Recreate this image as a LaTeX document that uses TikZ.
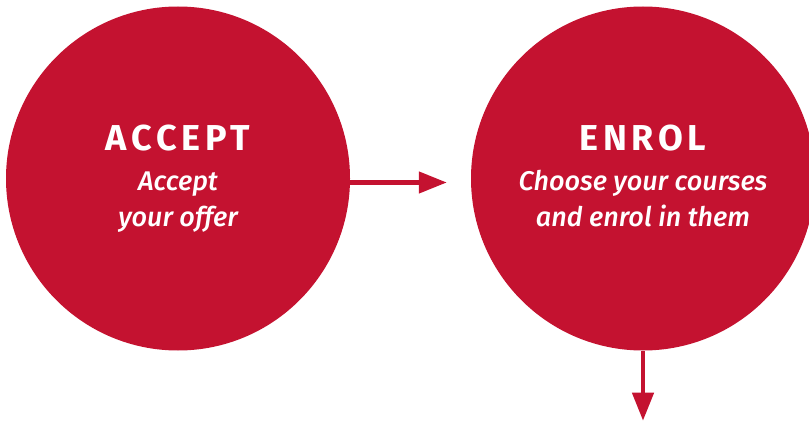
\documentclass[tikz,border=0pt]{standalone}
\usepackage{fontspec}
\setmainfont{Fira Sans}[ItalicFont={Fira Sans Medium Italic}]
\definecolor{uored}{HTML}{C41230}
\usetikzlibrary{arrows.meta,positioning}

\begin{document}
\begin{tikzpicture}[x=1pt,y=1pt,
  stage/.style={circle,fill=uored,minimum size=344pt,inner sep=0pt},
  head/.style={anchor=base,text=white,
    font=\fontsize{36}{36}\selectfont\bfseries\addfontfeatures{LetterSpace=13}},
  sub/.style={anchor=base,text=white,font=\fontsize{27}{32}\selectfont\itshape},
  arr/.style={-{Triangle[length=28pt,width=21pt]},line width=4.5pt,uored}]
  \useasboundingbox (0,0) rectangle (809,421);
  \clip (0,0) rectangle (809,421);
  \node[stage] (accept) at (178,242.5) {};
  \node[stage] (enrol) at (643,242.5) {};
  % titles and the two italic lines
  \node[head] (accepthd) at ([yshift=28pt]accept.center) {ACCEPT};
  \node[sub] (acceptla) at ([yshift=-12pt]accept.center) {Accept};
  \node[sub] (acceptlb) at ([yshift=-48.5pt]accept.center) {your offer};
  \node[head] (enrolhd) at ([yshift=28pt]enrol.center) {ENROL};
  \node[sub] (enrolla) at ([yshift=-12pt]enrol.center) {Choose your courses};
  \node[sub] (enrollb) at ([yshift=-48.5pt]enrol.center) {and enrol in them};
  \draw[arr] ([yshift=-4pt]accept.east) -- ([xshift=-24pt,yshift=-4pt]enrol.west);
  \draw[arr] (enrol.south) -- ([yshift=-70pt]enrol.south);
\end{tikzpicture}
\end{document}
